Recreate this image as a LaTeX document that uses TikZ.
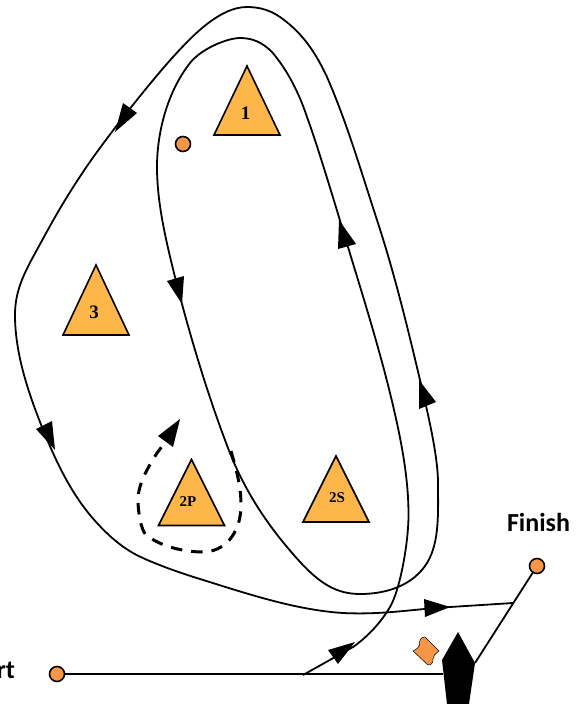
\documentclass[tikz,border=0pt]{standalone}
\usepackage{fontspec}
\setmainfont{Liberation Serif}
\newfontfamily\labelfont{Carlito}
\definecolor{markfill}{HTML}{FDB64A}
\definecolor{dotfill}{HTML}{F79646}
\tikzset{
  course/.style={line width=1.8pt,line join=round,black},
  dashcourse/.style={line width=3pt,black,dash pattern=on 11.5pt off 9pt},
  tiphead/.style={fill=black,draw=none},
  markbox/.style={fill=markfill,draw=black,line width=1.6pt,line join=miter},
  dot/.style={circle,fill=dotfill,draw=black,line width=1.6pt,minimum size=15pt,inner sep=0pt},
  place/.style={font=\labelfont\bfseries\fontsize{26}{30}\selectfont,inner sep=0pt}
}
% name, apex x, apex y, base y, label, label x, label y, size
\newcommand{\marktri}[8]{%
  \draw[markbox] (#2,#3) -- (#2+33,#4) -- (#2-33,#4) -- cycle;
  \node[inner sep=0pt,font=\bfseries\fontsize{#8}{#8}\selectfont] (#1) at (#6,#7) {#5};
}
\newcommand{\headtip}[6]{\fill[tiphead] (#1,#2) -- (#3,#4) -- (#5,#6) -- cycle;}
\begin{document}
\begin{tikzpicture}[x=1pt,y=-1pt]
\useasboundingbox (0,0) rectangle (584,704);
\clip (0,0) rectangle (584,704);
\node[dot] (start) at (57,674) {};
\node[dot] (finish) at (537,566) {};
\node[dot] (mark4) at (183,144) {};
\coordinate (bowR) at (475,663);
\coordinate (bowL) at (443,674);
\coordinate (lineA) at (303,675);
\coordinate (lineEnd) at (513,603);
\draw[course] (start) -- (bowL);
\draw[course] (finish) -- (bowR);
\draw[course] (lineA) -- (353,647)
 .. controls +(13,-9) and +(-10,17) .. (390,607)
 .. controls +(10,-17) and +(0,28) .. (408.5,515)
 .. controls +(0,-36) and +(12,49) .. (390,393)
 .. controls +(-12,-49) and +(13,43) .. (348,247)
 .. controls +(-13,-43) and +(11,30) .. (307,117)
 .. controls +(-8,-24) and +(16,19) .. (272,52)
 .. controls +(-10,-10) and +(12,0) .. (240,38)
 .. controls +(-12,0) and +(12,-15) .. (190,63)
 .. controls +(-22,28) and +(0,-36) .. (157,167)
 .. controls +(0,36) and +(-9,-36) .. (175,277)
 .. controls +(12,48) and +(-20,-53) .. (225,440)
 .. controls +(15,42) and +(-26,-31) .. (287,547)
 .. controls +(26,31) and +(-29,0) .. (360,594)
 .. controls +(29,0) and +(-13,21) .. (427,563)
 .. controls +(13,-21) and +(0,27) .. (438,483)
 .. controls +(0,-27) and +(8,34) .. (420,380)
 .. controls +(-13,-55) and +(17,52) .. (377,220)
 .. controls +(-17,-52) and +(20,46) .. (327,77)
 .. controls +(-13,-28) and +(20,14) .. (280,17)
 .. controls +(-10,-7) and +(12,0) .. (247,7)
 .. controls +(-27,0) and +(20,-22) .. (173,57)
 .. controls +(-20,22) and +(24,-36) .. (83,172)
 .. controls +(-24,36) and +(16,-29) .. (33,257)
 .. controls +(-12,22) and +(0,-20) .. (15,315)
 .. controls +(0,38) and +(-14,-35) .. (42,427)
 .. controls +(14,35) and +(-25,-27) .. (97,523)
 .. controls +(10,11) and +(-14,-8) .. (133,553)
 .. controls +(14,8) and +(-23,-7) .. (200,579)
 .. controls +(45,14) and +(-48,-3) .. (343,613)
 .. controls +(40,2) and +(-36,2) .. (450,607)
 -- (lineEnd);
\draw[dashcourse] (231,451)
 .. controls +(5,18) and +(0,-20) .. (241,505)
 .. controls +(0,30) and +(20,0) .. (203,552)
 .. controls +(-20,0) and +(14,11) .. (146,535)
 .. controls +(-5,-5) and +(0,12) .. (138,500)
 .. controls +(0,-17) and +(-8,13) .. (157,453)
 -- (166,441);
\headtip{355}{642}{328}{650}{338}{664}
\headtip{339}{220}{338}{249}{356}{244}
\headtip{419}{380}{419}{409}{436}{402}
\headtip{115}{132}{123}{103}{137}{113}
\headtip{182}{304}{167}{281}{184}{276}
\headtip{55}{450}{36}{429}{52}{421}
\headtip{450}{607}{424}{599}{425}{617}
\headtip{180}{419}{158}{436}{173}{447}
\marktri{m1}{247}{66}{135}{1}{245.5}{113}{19}
\marktri{m3}{96}{265}{335}{3}{94}{312}{19}
\marktri{m2p}{191.5}{459.5}{525.5}{2P}{188}{502}{15}
\marktri{m2s}{336}{456}{522}{2S}{337}{498}{15}
\fill[black] (458,632) -- (475,663) -- (469,704) -- (447,704) -- (442,660) -- cycle;
\draw[fill=dotfill,draw=black,line width=0.5pt] (413,651) .. controls (417,649) and (419,647) .. (419.5,645) .. controls (419,640) and (421,637) .. (425,637) -- (439,651) .. controls (435,654) and (433,656) .. (433,659) .. controls (433.5,663) and (431,665) .. (428,665) -- cycle;
\node[place,anchor=base] (finishlabel) at (538.5,531) {Finish};
\node[place,anchor=base east] (startlabel) at (15,678) {Start};
\end{tikzpicture}
\end{document}
